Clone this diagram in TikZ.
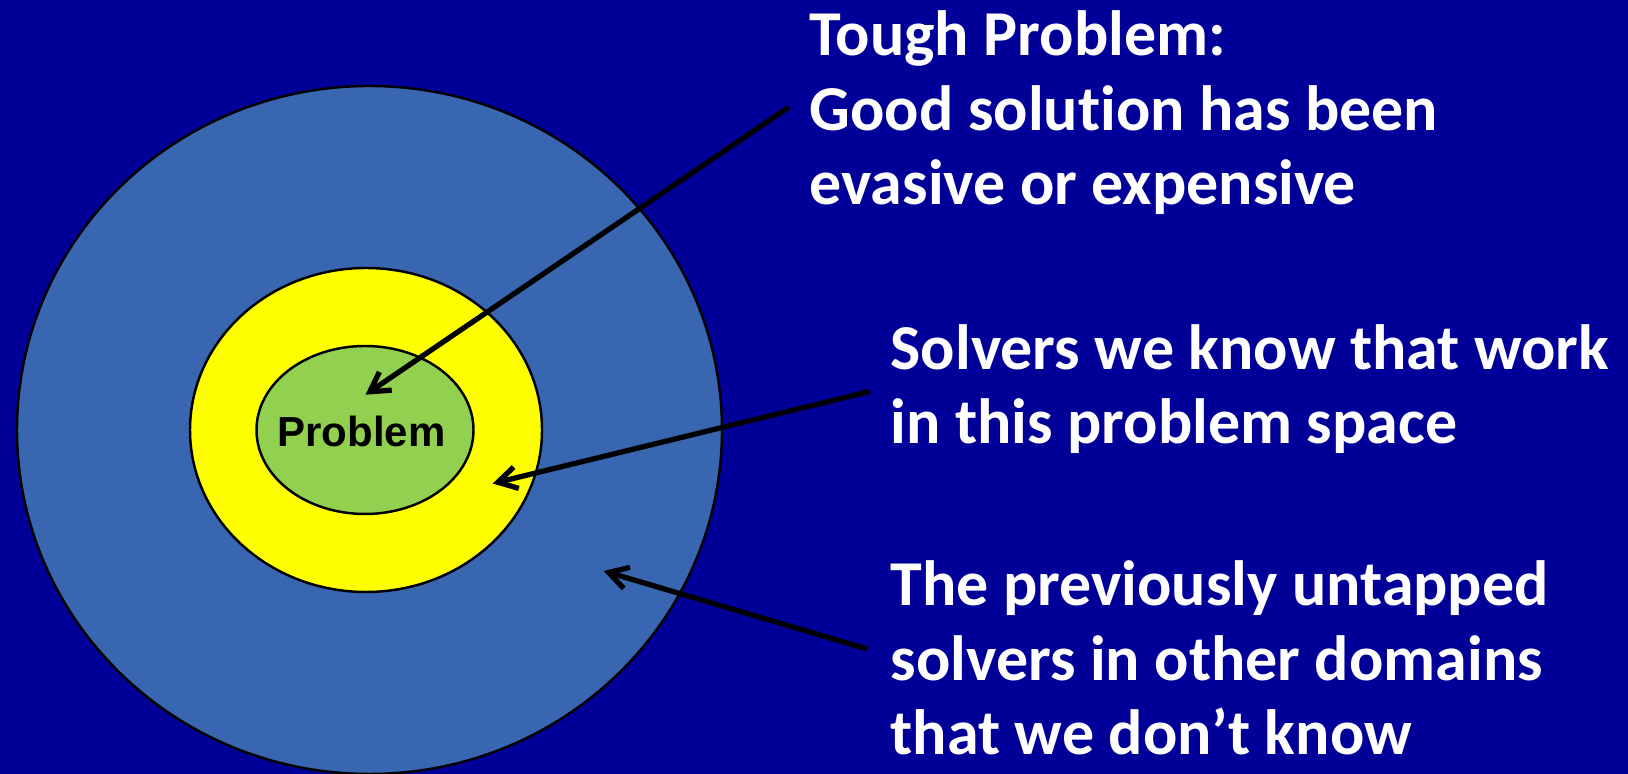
\documentclass[tikz,border=0pt]{standalone}
\usepackage{fontspec}
\setmainfont{Carlito}[Ligatures=NoCommon]
\newfontfamily\arialfont{Liberation Sans}
\usetikzlibrary{arrows.meta}

\definecolor{bgblue}{RGB}{0,0,153}
\definecolor{ringblue}{RGB}{57,102,177}
\definecolor{solveryellow}{RGB}{255,255,0}
\definecolor{solvergreen}{RGB}{146,208,80}

\begin{document}
\begin{tikzpicture}[scale=1,
  label/.style={text=white, font=\fontsize{18.2}{21.3}\selectfont\bfseries, align=left, anchor=base west, inner sep=0pt},
  pointer/.style={line width=1.5pt, -{Straight Barb[length=0.19cm, width=0.22cm]}}]

% Background
\fill[bgblue] (0,0) rectangle (16.28,7.74);
\useasboundingbox (0,0) rectangle (16.28,7.74);

% Rings
\draw[fill=ringblue, line width=0.7pt] (3.695,3.44) ellipse (3.525 and 3.44);
\draw[fill=solveryellow, line width=0.7pt] (3.66,3.44) ellipse (1.76 and 1.62);
\draw[fill=solvergreen, line width=0.7pt] (3.65,3.44) ellipse (1.085 and 0.84);

% Problem
\node[anchor=base, inner sep=0pt, font=\arialfont\fontsize{11.95}{14}\selectfont\bfseries] (problem) at (3.615,3.27) {Problem};

% Labels (anchored at the last line)
\node[label] (tough) at (8.09,5.69) {Tough Problem:\\Good solution has been\\evasive or expensive};
\node[label] (known) at (8.90,3.30) {Solvers we know that work\\in this problem space};
\node[label] (untapped) at (8.90,0.19) {The previously untapped\\solvers in other domains\\that we don’t know};

% Arrow ends
\coordinate (toughstart) at (7.89,6.67);
\coordinate (toughtip) at (3.655,3.793);
\coordinate (knownstart) at (8.70,3.826);
\coordinate (knowntip) at (4.927,2.905);
\coordinate (untappedstart) at (8.67,1.25);
\coordinate (untappedtip) at (6.036,2.03);

\draw[pointer] (toughstart) -- (toughtip);
\draw[pointer] (knownstart) -- (knowntip);
\draw[pointer] (untappedstart) -- (untappedtip);

\end{tikzpicture}
\end{document}
